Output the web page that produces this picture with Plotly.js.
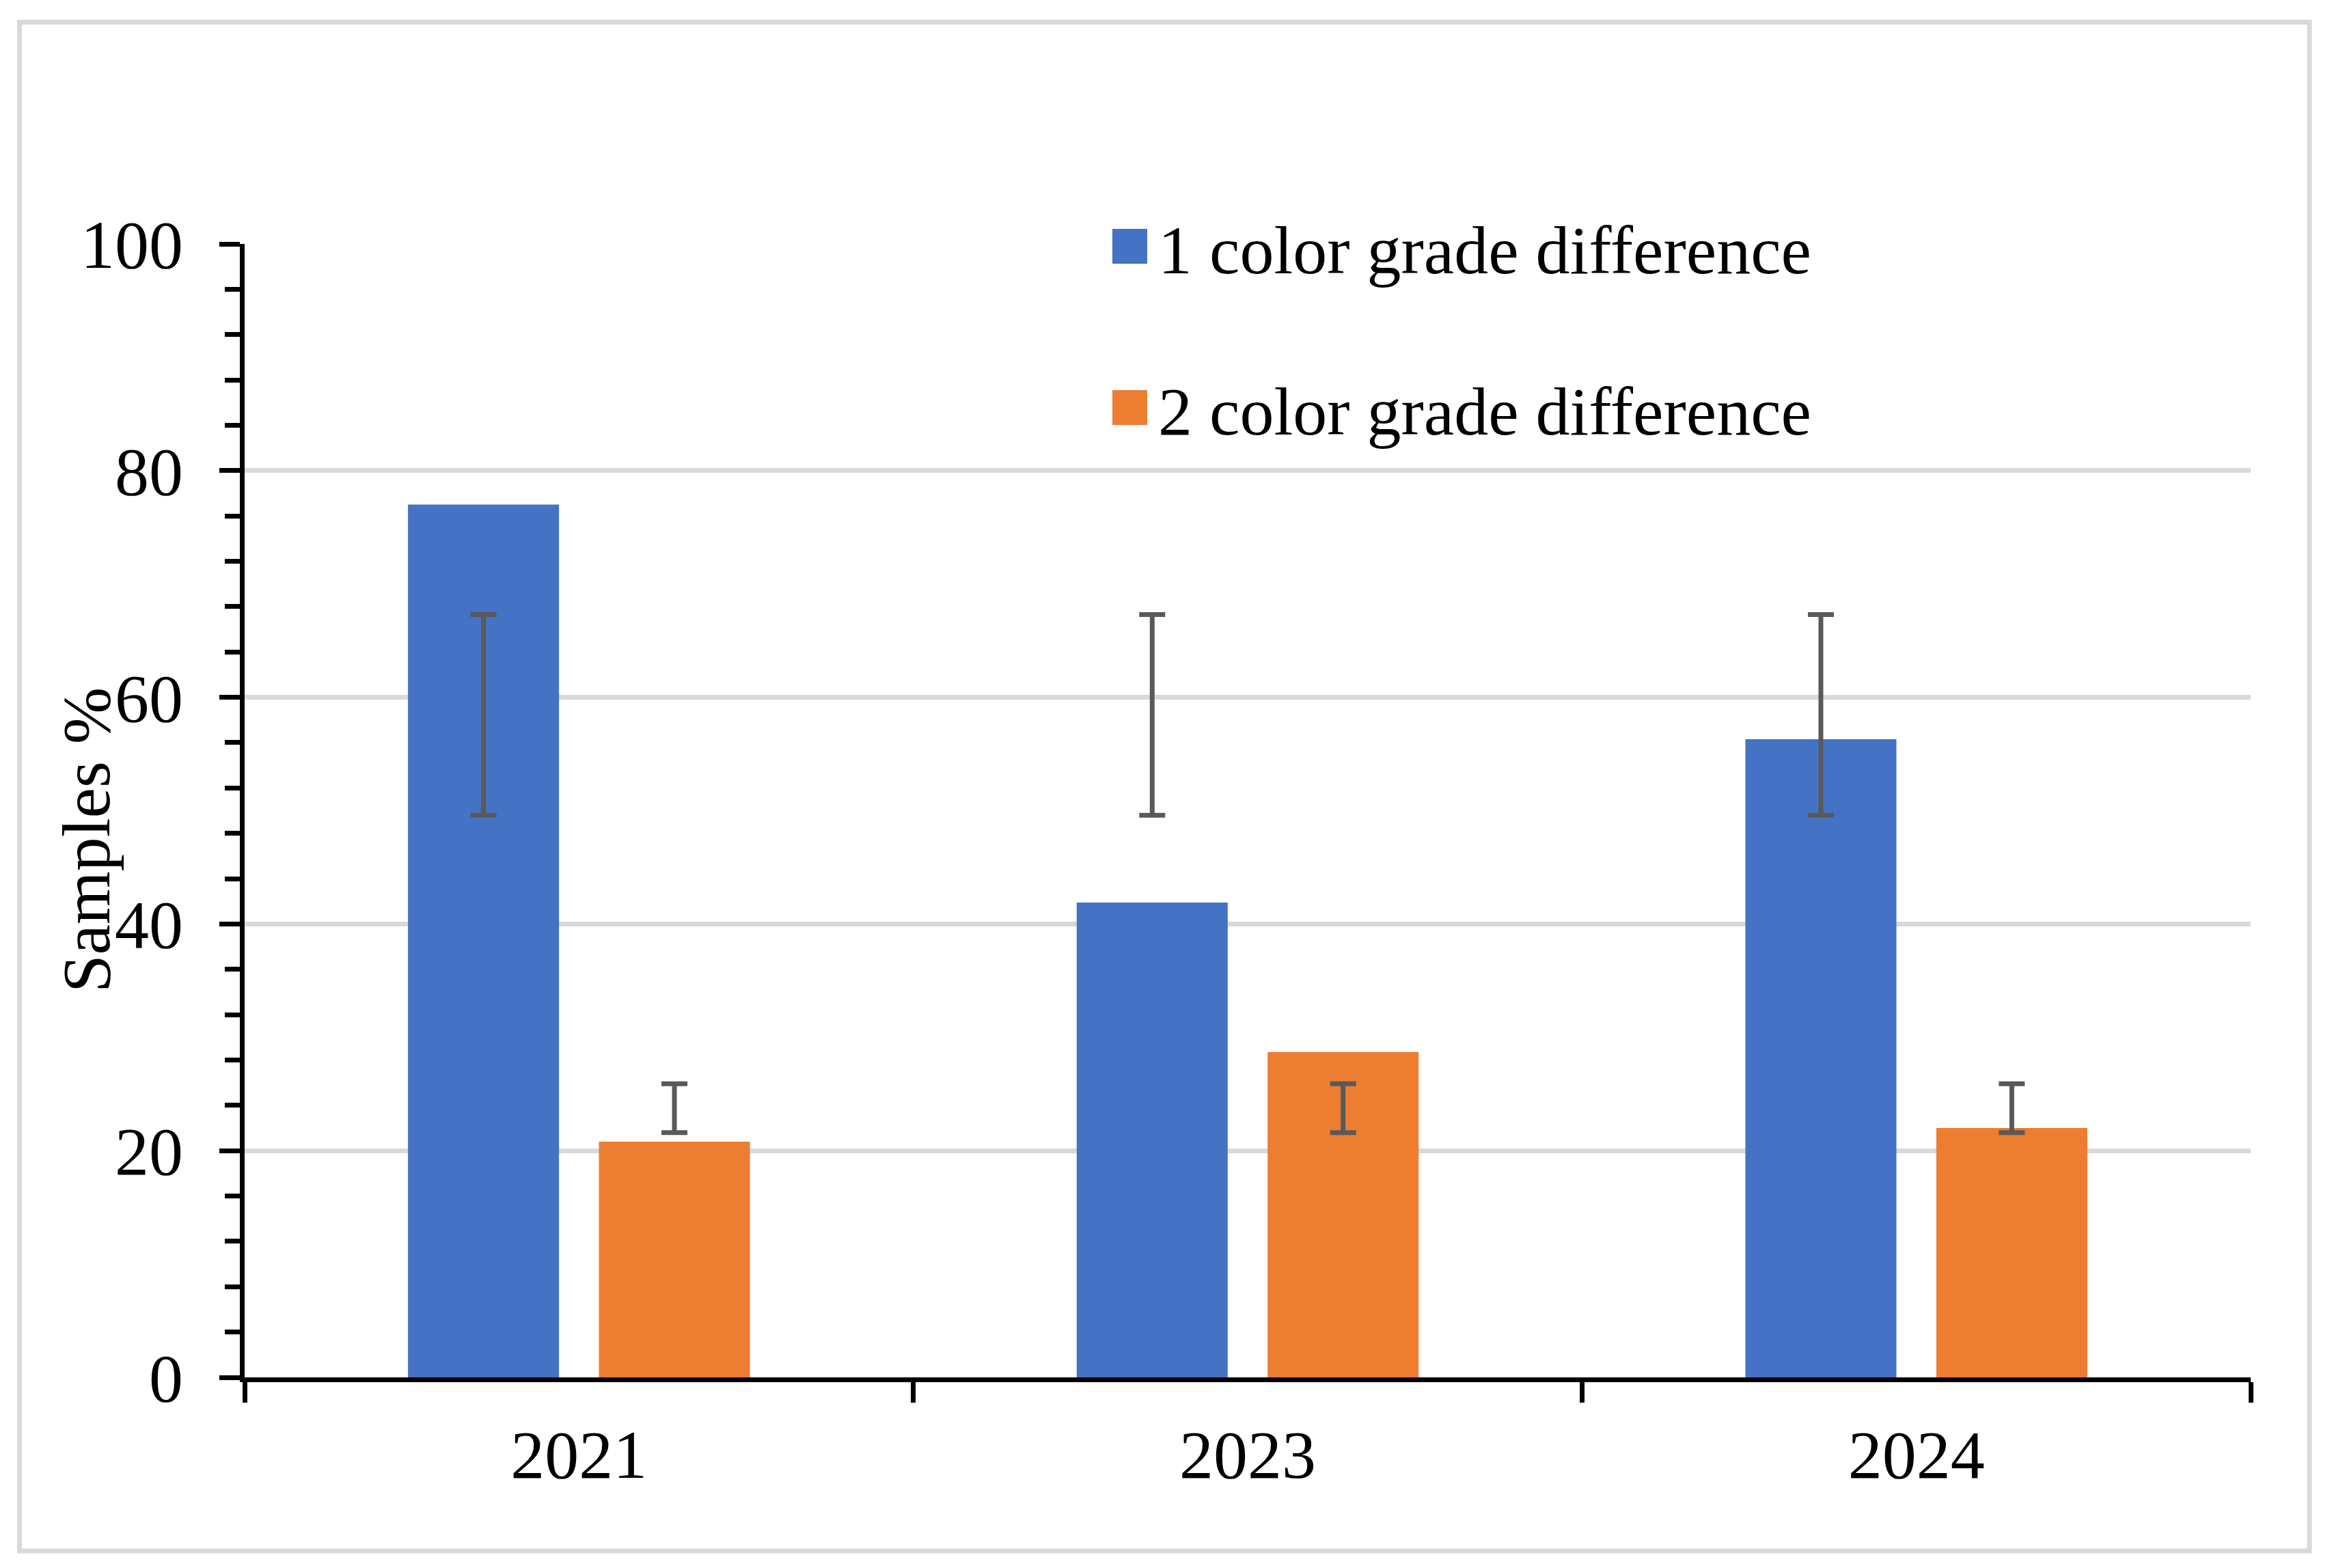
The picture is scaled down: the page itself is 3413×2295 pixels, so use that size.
<!DOCTYPE html>
<html><head><meta charset="utf-8">
<script src="https://cdn.plot.ly/plotly-3.0.1.min.js"></script>
<style>html,body{margin:0;padding:0;background:#fff;}#chart{width:3413px;height:2295px;}</style>
</head><body><div id="chart"></div>
<script>
// ---- data ----
const years = ['2021', '2023', '2024'];
const seriesNames = ['1 color grade difference', '2 color grade difference'];
const oneGrade = [77.0, 41.9, 56.3];
const twoGrade = [20.8, 28.7, 22.0];
const oneGradeErrLow = [49.6, 49.6, 49.6];
const oneGradeErrHigh = [67.3, 67.3, 67.3];
const twoGradeErrLow = [21.6, 21.6, 21.6];
const twoGradeErrHigh = [25.9, 25.9, 25.9];
const yTickVals = [0, 20, 40, 60, 80, 100];
const yTitle = 'Samples %';

// ---- style ----
const W = 3413, H = 2295;
const M = {l: 358, r: 119, t: 357, b: 279};
const FONT = 'Liberation Serif, "Times New Roman", serif';
const BLUE = '#4472C4', ORANGE = '#ED7D31', ERR = '#595959', GRID = '#D9D9D9';
const PW = W - M.l - M.r, PH = H - M.t - M.b;
const px2x = p => (p - M.l) / PW;
const px2y = p => (H - M.b - p) / PH;

const mid = (lo, hi) => lo.map((v, i) => (v + hi[i]) / 2);
const half = (lo, hi) => lo.map((v, i) => (hi[i] - v) / 2);

const errStyle = {type: 'data', visible: true, color: ERR, thickness: 7, width: 19};

const traces = [
  {type: 'bar', name: seriesNames[0], x: years, y: oneGrade, offsetgroup: '1', legendgroup: 'g1',
   marker: {color: BLUE, line: {width: 0}}},
  {type: 'bar', name: seriesNames[1], x: years, y: twoGrade, offsetgroup: '2', legendgroup: 'g2',
   marker: {color: ORANGE, line: {width: 0}}},
  {type: 'bar', x: years, y: mid(oneGradeErrLow, oneGradeErrHigh), offsetgroup: '1', showlegend: false,
   legendgroup: 'g1', hoverinfo: 'skip', marker: {color: 'rgba(0,0,0,0)', line: {width: 0}},
   error_y: Object.assign({array: half(oneGradeErrLow, oneGradeErrHigh)}, errStyle)},
  {type: 'bar', x: years, y: mid(twoGradeErrLow, twoGradeErrHigh), offsetgroup: '2', showlegend: false,
   legendgroup: 'g2', hoverinfo: 'skip', marker: {color: 'rgba(0,0,0,0)', line: {width: 0}},
   error_y: Object.assign({array: half(twoGradeErrLow, twoGradeErrHigh)}, errStyle)}
];

const layout = {
  width: W, height: H,
  margin: M,
  paper_bgcolor: '#fff', plot_bgcolor: '#fff',
  font: {family: FONT, size: 100, color: '#000'},
  barmode: 'group', bargap: 0.429, bargroupgap: 0.209,
  showlegend: true,
  legend: {x: px2x(1585), xanchor: 'left', y: px2y(289), yanchor: 'top',
           font: {family: FONT, size: 100, color: '#000'}, bgcolor: 'rgba(0,0,0,0)',
           itemwidth: 100, tracegroupgap: 103, traceorder: 'grouped'},
  xaxis: {type: 'category', range: [-0.5, 2.5], showline: true, linecolor: '#000', linewidth: 7,
          ticks: 'outside', tickson: 'boundaries', ticklen: 30, tickwidth: 7, tickcolor: '#000',
          ticklabelstandoff: 20,
          showgrid: false, zeroline: false, tickfont: {family: FONT, size: 100, color: '#000'}},
  yaxis: {range: [0, 100], tickvals: yTickVals, showline: true, linecolor: '#000', linewidth: 7,
          ticks: 'outside', ticklen: 30, tickwidth: 7, tickcolor: '#000', ticklabelstandoff: 33,
          showgrid: true, gridcolor: GRID, gridwidth: 7, zeroline: false,
          minor: {dtick: 4, ticks: 'outside', ticklen: 22, tickwidth: 7, tickcolor: '#000', showgrid: false},
          tickfont: {family: FONT, size: 100, color: '#000'}},
  annotations: [{text: yTitle, textangle: -90, xref: 'paper', yref: 'paper',
                 x: px2x(126), y: px2y(1230), xanchor: 'center', yanchor: 'middle', showarrow: false,
                 font: {family: FONT, size: 100, color: '#000'}}],
  shapes: [{type: 'rect', xref: 'paper', yref: 'paper', layer: 'below',
            x0: px2x(28.5), x1: px2x(3380), y0: px2y(2270), y1: px2y(32.5),
            line: {color: GRID, width: 7}, fillcolor: 'rgba(0,0,0,0)'}]
};

Plotly.newPlot('chart', traces, layout, {staticPlot: true, displayModeBar: false}).then(gd => {
  gd.querySelectorAll('.legend .legendpoints path').forEach(p => {
    p.setAttribute('transform', 'translate(68.5,0) scale(4.25)');
  });
});
</script></body></html>
